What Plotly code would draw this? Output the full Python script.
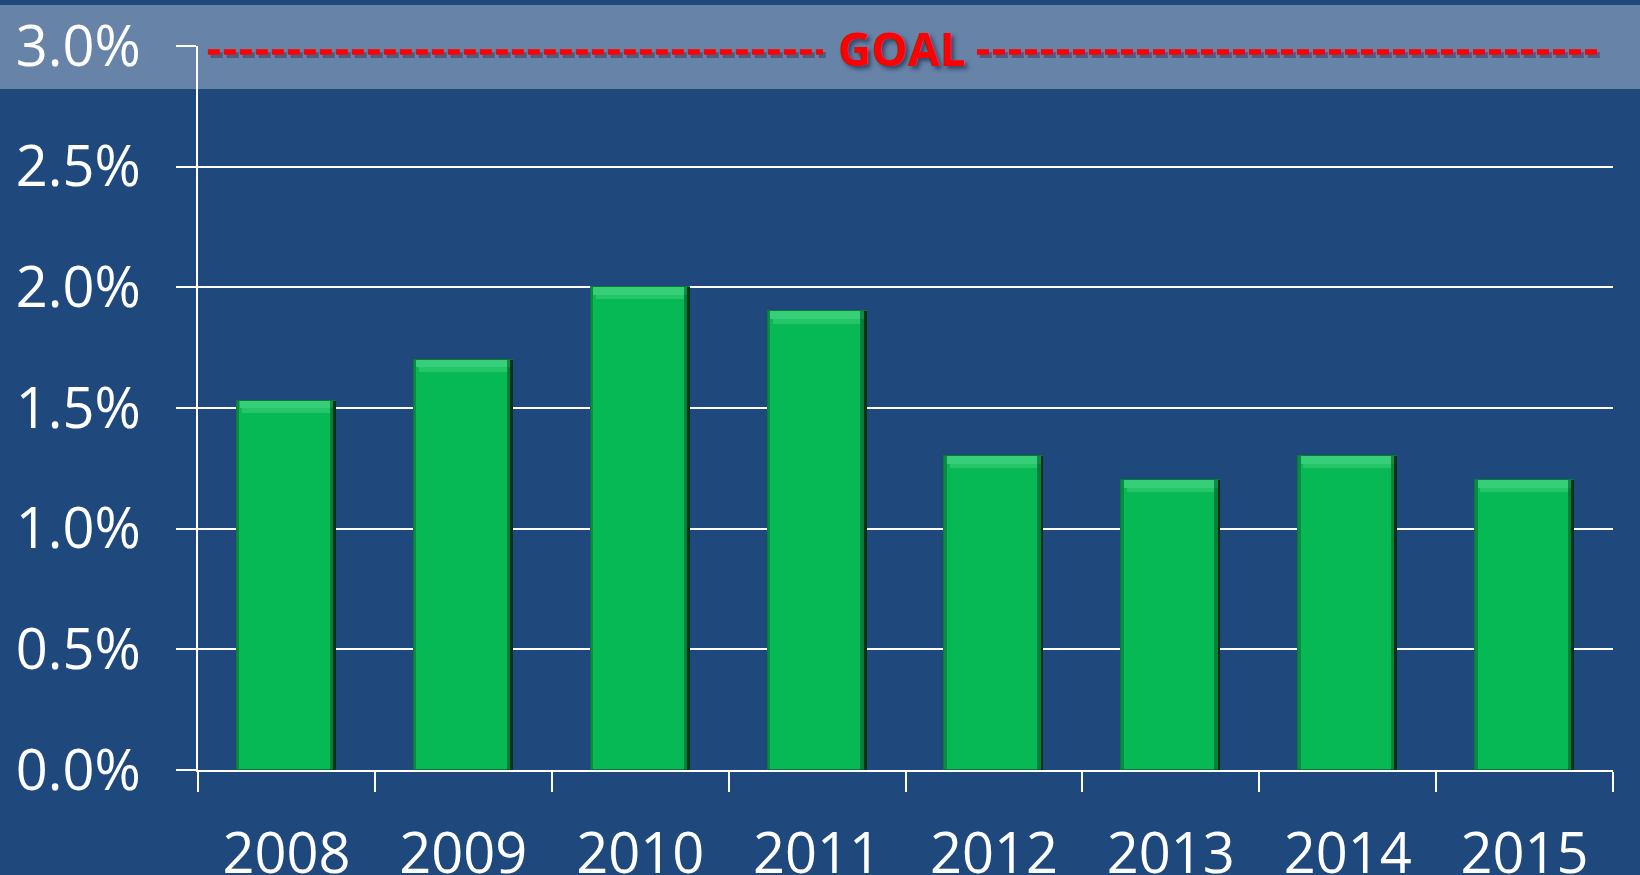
import plotly.graph_objects as go

# ---- data ----
years = ["2008", "2009", "2010", "2011", "2012", "2013", "2014", "2015"]
rates = [1.53, 1.70, 2.00, 1.90, 1.30, 1.20, 1.30, 1.20]
goal_value = 2.975
goal_label = "GOAL"
y_ticks = [0.0, 0.5, 1.0, 1.5, 2.0, 2.5, 3.0]
y_tick_text = ["%.1f%%" % v for v in y_ticks]

BG = "#1F497D"
BAND = "#6783A8"
FACE = "#06B955"
TOP = "#36CF78"
FONT = "Open Sans"

bar_w = 0.56
bevel = 0.05

fig = go.Figure()

# main bar face
fig.add_trace(go.Bar(
    x=years, y=rates, width=bar_w,
    marker=dict(color=FACE, line=dict(color="#0A7A3A", width=1)),
    hoverinfo="skip", showlegend=False,
))
# top bevel highlight (two steps to suggest a trapezoid)
fig.add_trace(go.Bar(
    x=years, y=[bevel] * len(rates), base=[r - bevel for r in rates],
    width=bar_w - 0.06,
    marker=dict(color="rgba(51,204,116,0.7)", line=dict(width=0)),
    hoverinfo="skip", showlegend=False,
))
fig.add_trace(go.Bar(
    x=years, y=[bevel * 0.6] * len(rates), base=[r - bevel * 0.6 for r in rates],
    width=bar_w - 0.03,
    marker=dict(color=TOP, line=dict(width=0)),
    hoverinfo="skip", showlegend=False,
))
# right dark edge
fig.add_trace(go.Bar(
    x=years, y=rates, width=0.035, offset=bar_w / 2 - 0.035,
    marker=dict(color="rgba(4,89,42,0.6)", line=dict(width=0)),
    hoverinfo="skip", showlegend=False,
))
fig.add_trace(go.Bar(
    x=years, y=rates, width=0.016, offset=bar_w / 2 - 0.016,
    marker=dict(color="rgba(0,40,18,0.85)", line=dict(width=0)),
    hoverinfo="skip", showlegend=False,
))
# left subtle edge
fig.add_trace(go.Bar(
    x=years, y=rates, width=0.014, offset=-bar_w / 2,
    marker=dict(color="rgba(4,110,50,0.6)", line=dict(width=0)),
    hoverinfo="skip", showlegend=False,
))

shapes = [
    # light highlight band across the top
    dict(type="rect", xref="paper", yref="paper", x0=-0.2, x1=1.1,
         y0=0.9406, y1=1.0566, fillcolor=BAND, line=dict(width=0), layer="below"),
]
# goal dashed line (two segments around the label), with soft shadow
for (a, b) in [(0.007, 0.4417), (0.5505, 0.989)]:
    shapes.append(dict(type="line", xref="paper", yref="y", x0=a + 0.002, x1=b + 0.002,
                       y0=goal_value - 0.012, y1=goal_value - 0.012,
                       line=dict(color="rgba(20,30,60,0.35)", width=6, dash="12px,4px")))
    shapes.append(dict(type="line", xref="paper", yref="y", x0=a, x1=b,
                       y0=goal_value, y1=goal_value,
                       line=dict(color="#FF0000", width=5.5, dash="12px,4px")))

fig.update_layout(
    width=1640, height=875,
    paper_bgcolor=BG, plot_bgcolor="rgba(0,0,0,0)",
    margin=dict(l=198, r=27, t=46, b=105),
    barmode="overlay", bargap=0,
    font=dict(family=FONT, color="white"),
    shapes=shapes,
    annotations=[dict(
        text=goal_label, xref="paper", yref="y", x=0.4975, y=goal_value,
        yshift=4, showarrow=False,
        font=dict(family=FONT, size=46, color="#FF0000", weight="bold",
                  shadow="3px 3px 4px rgba(10,20,50,0.55)"),
    )],
)
fig.update_xaxes(
    type="category", tickson="boundaries", ticks="outside", ticklen=20,
    tickwidth=2, tickcolor="white", showline=True, linecolor="white", linewidth=2,
    showgrid=False, tickfont=dict(size=56, color="white", family=FONT),
    ticklabelstandoff=34, automargin=False,
)
fig.update_yaxes(
    range=[0, 3], tickmode="array", tickvals=y_ticks, ticktext=y_tick_text,
    ticks="outside", ticklen=20, tickwidth=2, tickcolor="white",
    showline=True, linecolor="white", linewidth=2,
    showgrid=True, gridcolor="white", gridwidth=2, zeroline=False,
    tickfont=dict(size=56, color="white", family=FONT),
    ticklabelstandoff=24, automargin=False,
)

fig.write_html(
    "out.html",
    config={"displayModeBar": False},
    post_script="document.body.style.margin='0';document.body.style.background='#1F497D';"
                "document.body.style.overflow='hidden';",
)
